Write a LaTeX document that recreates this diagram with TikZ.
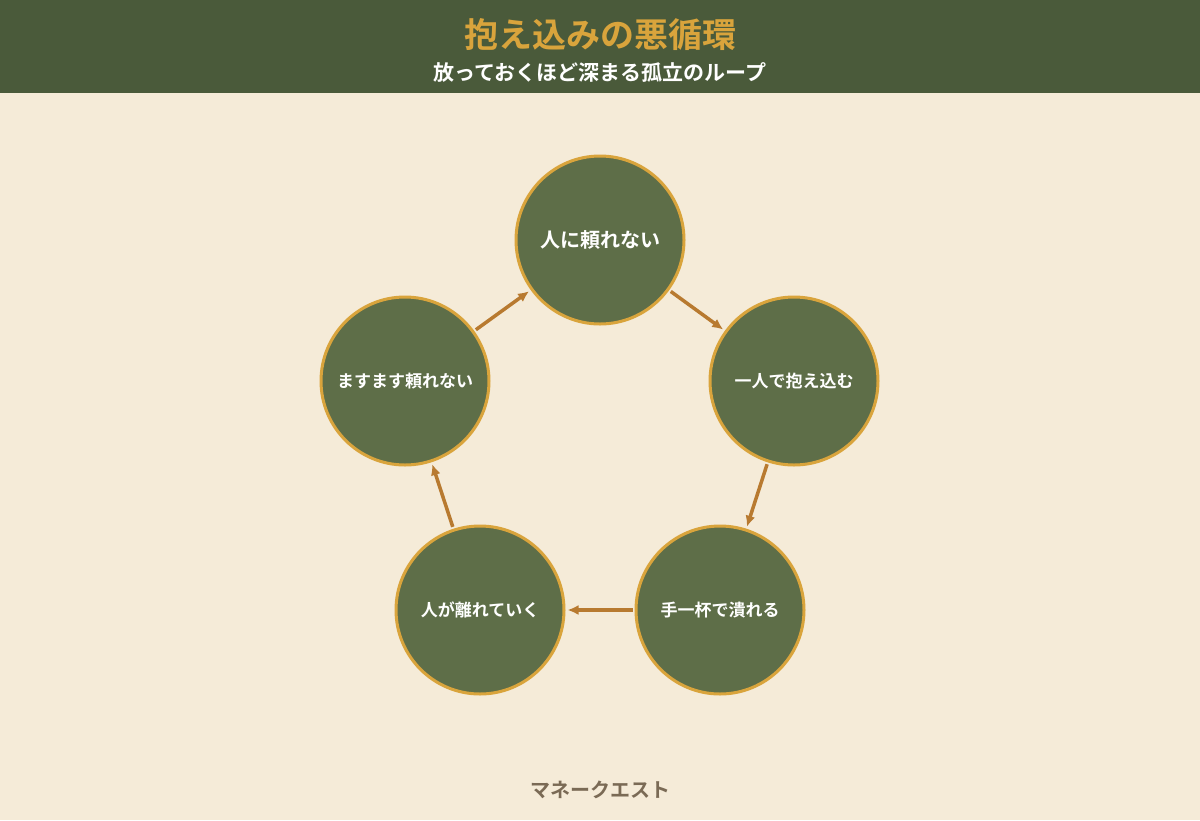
\documentclass[tikz,border=0pt]{standalone}
\usepackage{fontspec}
\newfontfamily\jp{Noto Sans CJK JP}[BoldFont={* Bold}]
\usetikzlibrary{arrows.meta}
\definecolor{bg}{HTML}{F5EBD8}
\definecolor{hdr}{HTML}{4A5A3A}
\definecolor{gold}{HTML}{D9A43C}
\definecolor{cfill}{HTML}{5E6E48}
\definecolor{arr}{HTML}{B87A30}
\definecolor{foot}{HTML}{7A6A55}
\tikzset{
 cyc/.style={circle,draw=gold,line width=3pt,fill=cfill,minimum size=168pt,inner sep=0pt,text=white,font=\jp\bfseries\fontsize{17}{20}\selectfont},
 conn/.style={draw=arr,line width=3.5pt,-{Latex[length=11pt,width=10pt]},shorten <=2pt,shorten >=2pt}
}
\begin{document}
\begin{tikzpicture}[x=1pt,y=-1pt]
\fill[bg] (0,0) rectangle (1200,820);
\useasboundingbox (0,0) rectangle (1200,820);
\fill[hdr] (0,0) rectangle (1200,93);
\node[text=gold,font=\jp\bfseries\fontsize{34}{38}\selectfont] (title) at (600,35) {抱え込みの悪循環};
\node[text=white,font=\jp\bfseries\fontsize{21}{24}\selectfont] (sub) at (600,73) {放っておくほど深まる孤立のループ};
\node[cyc,font=\jp\bfseries\fontsize{20}{24}\selectfont] (a) at (600,240) {人に頼れない};
\node[cyc] (b) at (794,381) {一人で抱え込む};
\node[cyc] (c) at (720,610) {手一杯で潰れる};
\node[cyc] (d) at (480,610) {人が離れていく};
\node[cyc] (e) at (405,381) {ますます頼れない};
\draw[conn] (a) -- (b);
\draw[conn] (b) -- (c);
\draw[conn] (c) -- (d);
\draw[conn] (d) -- (e);
\draw[conn] (e) -- (a);
\node[text=foot,font=\jp\bfseries\fontsize{20}{24}\selectfont] (f) at (600,790) {マネークエスト};
\end{tikzpicture}
\end{document}
